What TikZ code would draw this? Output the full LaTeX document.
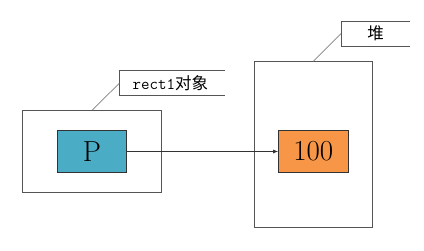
\documentclass[tikz,border=0pt]{standalone}
\usepackage{fontspec}
\newfontfamily\cjk{Noto Sans CJK SC}
\usetikzlibrary{arrows.meta}
\definecolor{teal1}{HTML}{4BACC6}
\definecolor{orange1}{HTML}{F79646}
\definecolor{edge1}{HTML}{555555}
\begin{document}
\begin{tikzpicture}[x=1pt,y=-1pt,
  outerbox/.style={draw=edge1,line width=0.9pt},
  valbox/.style={draw=black!80,line width=0.8pt,minimum width=69.4pt,minimum height=41.6pt,inner sep=0pt,font=\fontsize{29}{32}\selectfont},
  leader/.style={draw=gray,line width=0.7pt},
  callout/.style={draw=edge1,line width=0.8pt}]
\useasboundingbox (0,0) rectangle (424,251);
% left object box
\draw[outerbox] (22.3,110) rectangle (161.3,192.7);
\node[valbox,fill=teal1] (p) at (92,151.5) {P};
% right heap box
\draw[outerbox] (254.3,61.3) rectangle (372,227.7);
\node[valbox,fill=orange1] (v) at (313.3,151.5) {100};
% arrow
\draw[-{Latex[length=5pt,width=4pt]},line width=0.7pt,black!80] (p.east) -- (v.west);
% callout rect1对象
\coordinate (c1a) at (119.3,83.3);
\coordinate (c1b) at (92.3,110);
\draw[callout] (225.3,70) -- (119.3,70) -- (119.3,95) -- (225.3,95);
\draw[leader] (c1a) -- (c1b);
\node[anchor=west,inner sep=0pt] (t1) at (132.5,83) {\fontsize{16.5}{18}\selectfont\ttfamily rect1\cjk\fontsize{16.5}{18}\selectfont 对象};
% callout 堆
\coordinate (c2a) at (341,33.7);
\coordinate (c2b) at (313.3,61.3);
\draw[callout] (410,21.3) -- (341,21.3) -- (341,46.3) -- (410,46.3);
\draw[leader] (c2a) -- (c2b);
\node[inner sep=0pt] (t2) at (375.5,33.5) {\fontsize{16.5}{18}\selectfont\cjk 堆};
\end{tikzpicture}
\end{document}
